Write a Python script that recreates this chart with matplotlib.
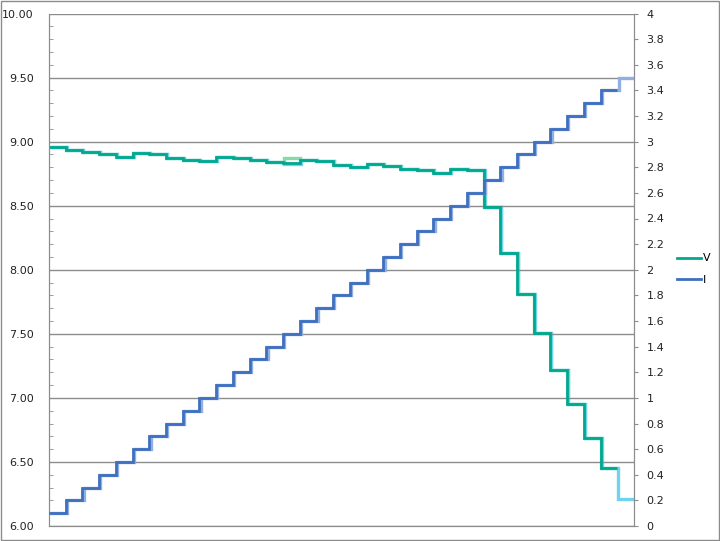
import numpy as np
import matplotlib
matplotlib.use("Agg")
import matplotlib.pyplot as plt
from matplotlib.patches import Rectangle

# one value per current step (35 steps of 0.1 A)
current = [0.1, 0.2, 0.3, 0.4, 0.5, 0.6, 0.7, 0.8, 0.9, 1.0,
           1.1, 1.2, 1.3, 1.4, 1.5, 1.6, 1.7, 1.8, 1.9, 2.0,
           2.1, 2.2, 2.3, 2.4, 2.5, 2.6, 2.7, 2.8, 2.9, 3.0,
           3.1, 3.2, 3.3, 3.4, 3.5]
voltage = [8.955, 8.935, 8.92, 8.90, 8.88, 8.91, 8.90, 8.875, 8.855, 8.845,
           8.88, 8.87, 8.855, 8.84, 8.83, 8.855, 8.845, 8.82, 8.805, 8.825,
           8.81, 8.79, 8.775, 8.755, 8.79, 8.78, 8.49, 8.13, 7.81, 7.51,
           7.22, 6.95, 6.69, 6.45, 6.21]
# lighter traces drawn underneath (slightly different readings)
voltage_hi = voltage[:14] + [8.87] + voltage[15:34]
voltage_lo = voltage[:14] + [8.822] + voltage[15:]

v_color = "#00A88E"
i_color = "#3F6FBF"
grid_gray = "#8C8C8C"

fig = plt.figure(figsize=(7.2, 5.41), dpi=100)
ax = fig.add_axes([49 / 720, 1 - 526 / 541, (634 - 49) / 720, (526 - 13.5) / 541])
ax2 = ax.twinx()

edges = np.arange(len(current) + 1)
n = len(current) - 1

# light under-traces
ax.stairs(voltage_hi, edges[:n + 1] + 0.04, baseline=None, color="#86D9A8", lw=2.4, zorder=1)
ax.stairs(voltage_lo, edges + 0.06, baseline=None, color="#6FD3EC", lw=2.4, zorder=1)
ax2.stairs(current, edges + 0.08, baseline=None, color="#8FB0E0", lw=2.4, zorder=1)

# main traces
ax.stairs(voltage[:n], edges[:n + 1], baseline=None, color=v_color, lw=2.0, zorder=3, label="V")
ax2.stairs(current[:n], edges[:n + 1], baseline=None, color=i_color, lw=2.0, zorder=3, label="I")

ax.set_xlim(0, len(current))
ax.set_ylim(6, 10)
ax2.set_ylim(0, 4)

ax.set_yticks(np.arange(6, 10.01, 0.5))
ax.set_yticklabels(["%.2f" % t for t in np.arange(6, 10.01, 0.5)])
ax.set_yticks(np.arange(6, 10.01, 0.1), minor=True)
ax.tick_params(axis="y", which="major", length=0, labelsize=8, pad=11, labelcolor="#222222")
ax.tick_params(axis="y", which="minor", direction="in", length=3, color=grid_gray)
ax.set_xticks([])
ax.grid(axis="y", which="major", color=grid_gray, lw=1)

r_ticks = np.round(np.arange(0, 4.01, 0.2), 1)
ax2.set_yticks(r_ticks)
ax2.set_yticklabels(["%g" % t for t in r_ticks])
ax2.tick_params(axis="y", direction="out", length=3, color=grid_gray, labelsize=8, pad=6, labelcolor="#222222")

for a in (ax, ax2):
    a.spines["top"].set_visible(False)
    for s in ("left", "right", "bottom"):
        a.spines[s].set_color(grid_gray)
    a.set_facecolor("none")

h1, l1 = ax.get_legend_handles_labels()
h2, l2 = ax2.get_legend_handles_labels()
fig.legend(h1 + h2, l1 + l2, loc="center left", bbox_to_anchor=(667 / 720, 1 - 269 / 541),
           frameon=False, fontsize=8, handlelength=2.2, handletextpad=0.1, labelspacing=1.0)

fig.patches.append(Rectangle((0.001, 0.001), 0.997, 0.997, transform=fig.transFigure,
                             fill=False, edgecolor=grid_gray, lw=1))

fig.savefig("out.png", dpi=100)
